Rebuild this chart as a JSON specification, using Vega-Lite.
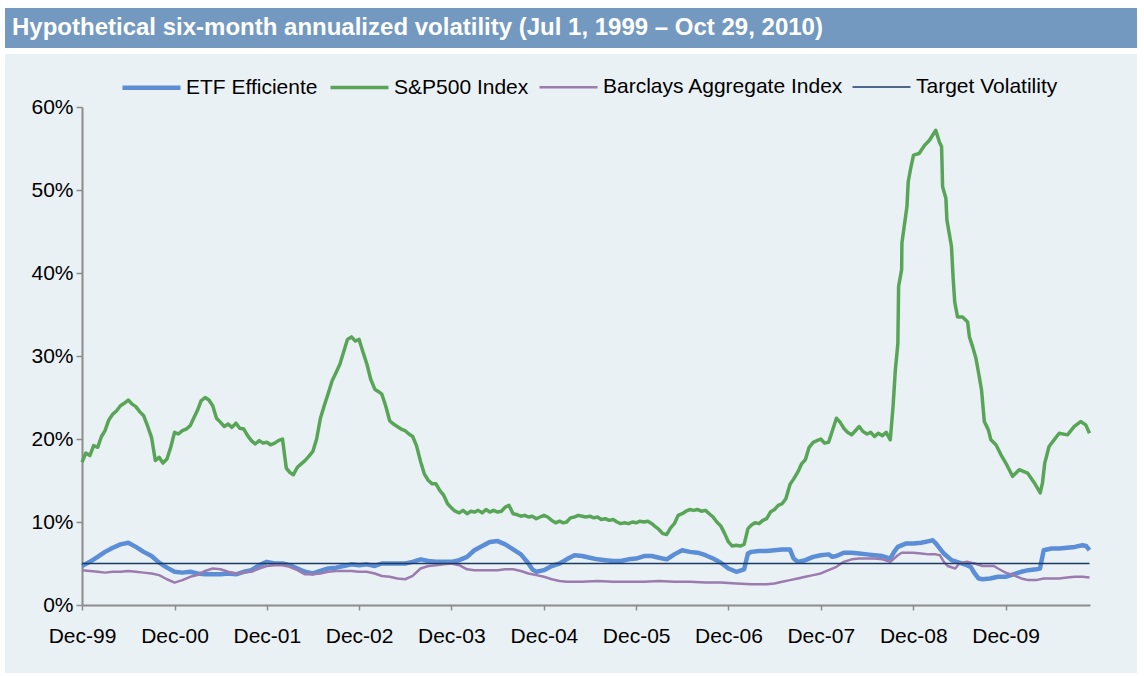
{
"$schema": "https://vega.github.io/schema/vega-lite/v6.json",
"background": "#FFFFFF",
"padding": {"left": 5, "top": 8, "right": 7, "bottom": 3},
"spacing": 6,
"config": {"view": {"stroke": null}, "font": "Liberation Sans"},
"datasets": {"vol": [
{"d":"1999-12-01","k":"e","v":4.7},{"d":"2000-01-01","k":"e","v":5.2},{"d":"2000-02-01","k":"e","v":5.8},{"d":"2000-03-01","k":"e","v":6.4},{"d":"2000-04-01","k":"e","v":6.9},{"d":"2000-05-01","k":"e","v":7.3},{"d":"2000-05-16","k":"e","v":7.4},{"d":"2000-06-01","k":"e","v":7.5},{"d":"2000-07-01","k":"e","v":7.0},{"d":"2000-08-01","k":"e","v":6.4},{"d":"2000-09-01","k":"e","v":5.9},{"d":"2000-10-01","k":"e","v":5.1},{"d":"2000-11-01","k":"e","v":4.5},{"d":"2000-12-01","k":"e","v":4.0},
{"d":"2001-01-01","k":"e","v":3.9},{"d":"2001-02-01","k":"e","v":4.0},{"d":"2001-03-01","k":"e","v":3.8},{"d":"2001-04-01","k":"e","v":3.7},{"d":"2001-05-01","k":"e","v":3.7},{"d":"2001-06-01","k":"e","v":3.7},{"d":"2001-07-01","k":"e","v":3.8},{"d":"2001-08-01","k":"e","v":3.7},{"d":"2001-09-01","k":"e","v":4.0},{"d":"2001-10-01","k":"e","v":4.2},{"d":"2001-11-01","k":"e","v":4.8},{"d":"2001-12-01","k":"e","v":5.2},
{"d":"2002-01-01","k":"e","v":5.0},{"d":"2002-02-01","k":"e","v":5.0},{"d":"2002-03-01","k":"e","v":4.8},{"d":"2002-04-01","k":"e","v":4.4},{"d":"2002-05-01","k":"e","v":4.0},{"d":"2002-06-01","k":"e","v":3.8},{"d":"2002-07-01","k":"e","v":4.1},{"d":"2002-08-01","k":"e","v":4.4},{"d":"2002-09-01","k":"e","v":4.5},{"d":"2002-10-01","k":"e","v":4.7},{"d":"2002-11-01","k":"e","v":4.9},{"d":"2002-12-01","k":"e","v":4.8},
{"d":"2003-01-01","k":"e","v":4.9},{"d":"2003-02-01","k":"e","v":4.7},{"d":"2003-03-01","k":"e","v":5.0},{"d":"2003-04-01","k":"e","v":5.0},{"d":"2003-05-01","k":"e","v":5.0},{"d":"2003-06-01","k":"e","v":5.0},{"d":"2003-07-01","k":"e","v":5.2},{"d":"2003-08-01","k":"e","v":5.5},{"d":"2003-09-01","k":"e","v":5.3},{"d":"2003-10-01","k":"e","v":5.2},{"d":"2003-11-01","k":"e","v":5.2},{"d":"2003-12-01","k":"e","v":5.2},
{"d":"2004-01-01","k":"e","v":5.4},{"d":"2004-02-01","k":"e","v":5.8},{"d":"2004-03-01","k":"e","v":6.6},{"d":"2004-04-01","k":"e","v":7.1},{"d":"2004-05-01","k":"e","v":7.6},{"d":"2004-06-01","k":"e","v":7.7},{"d":"2004-07-01","k":"e","v":7.3},{"d":"2004-08-01","k":"e","v":6.7},{"d":"2004-09-01","k":"e","v":6.1},{"d":"2004-10-01","k":"e","v":5.0},{"d":"2004-10-16","k":"e","v":4.3},{"d":"2004-11-01","k":"e","v":4.0},{"d":"2004-12-01","k":"e","v":4.2},
{"d":"2005-01-01","k":"e","v":4.7},{"d":"2005-02-01","k":"e","v":5.0},{"d":"2005-03-01","k":"e","v":5.5},{"d":"2005-04-01","k":"e","v":6.0},{"d":"2005-05-01","k":"e","v":5.9},{"d":"2005-06-01","k":"e","v":5.7},{"d":"2005-07-01","k":"e","v":5.5},{"d":"2005-08-01","k":"e","v":5.4},{"d":"2005-09-01","k":"e","v":5.3},{"d":"2005-10-01","k":"e","v":5.3},{"d":"2005-11-01","k":"e","v":5.5},{"d":"2005-12-01","k":"e","v":5.6},
{"d":"2006-01-01","k":"e","v":5.9},{"d":"2006-02-01","k":"e","v":5.9},{"d":"2006-03-01","k":"e","v":5.7},{"d":"2006-04-01","k":"e","v":5.5},{"d":"2006-05-01","k":"e","v":6.1},{"d":"2006-06-01","k":"e","v":6.6},{"d":"2006-07-01","k":"e","v":6.4},{"d":"2006-08-01","k":"e","v":6.3},{"d":"2006-09-01","k":"e","v":6.0},{"d":"2006-10-01","k":"e","v":5.6},{"d":"2006-11-01","k":"e","v":5.1},{"d":"2006-12-01","k":"e","v":4.4},
{"d":"2007-01-01","k":"e","v":4.0},{"d":"2007-02-01","k":"e","v":4.3},{"d":"2007-02-16","k":"e","v":6.2},{"d":"2007-03-01","k":"e","v":6.4},{"d":"2007-04-01","k":"e","v":6.5},{"d":"2007-05-01","k":"e","v":6.5},{"d":"2007-06-01","k":"e","v":6.6},{"d":"2007-07-01","k":"e","v":6.7},{"d":"2007-08-01","k":"e","v":6.7},{"d":"2007-08-16","k":"e","v":5.6},{"d":"2007-09-01","k":"e","v":5.2},{"d":"2007-10-01","k":"e","v":5.4},{"d":"2007-11-01","k":"e","v":5.8},{"d":"2007-12-01","k":"e","v":6.0},
{"d":"2008-01-01","k":"e","v":6.1},{"d":"2008-01-16","k":"e","v":5.8},{"d":"2008-02-01","k":"e","v":5.9},{"d":"2008-03-01","k":"e","v":6.3},{"d":"2008-04-01","k":"e","v":6.3},{"d":"2008-05-01","k":"e","v":6.2},{"d":"2008-06-01","k":"e","v":6.1},{"d":"2008-07-01","k":"e","v":6.0},{"d":"2008-08-01","k":"e","v":5.9},{"d":"2008-09-01","k":"e","v":5.6},{"d":"2008-09-16","k":"e","v":6.4},{"d":"2008-10-01","k":"e","v":7.0},{"d":"2008-11-01","k":"e","v":7.4},{"d":"2008-12-01","k":"e","v":7.4},
{"d":"2009-01-01","k":"e","v":7.5},{"d":"2009-02-01","k":"e","v":7.7},{"d":"2009-02-16","k":"e","v":7.8},{"d":"2009-03-01","k":"e","v":7.4},{"d":"2009-04-01","k":"e","v":6.2},{"d":"2009-05-01","k":"e","v":5.4},{"d":"2009-06-01","k":"e","v":5.1},{"d":"2009-07-01","k":"e","v":4.8},{"d":"2009-07-16","k":"e","v":4.6},{"d":"2009-08-01","k":"e","v":3.8},{"d":"2009-08-16","k":"e","v":3.2},{"d":"2009-09-01","k":"e","v":3.1},{"d":"2009-10-01","k":"e","v":3.2},{"d":"2009-11-01","k":"e","v":3.4},{"d":"2009-12-01","k":"e","v":3.4},
{"d":"2010-01-01","k":"e","v":3.7},{"d":"2010-02-01","k":"e","v":4.0},{"d":"2010-03-01","k":"e","v":4.2},{"d":"2010-04-01","k":"e","v":4.3},{"d":"2010-04-16","k":"e","v":4.4},{"d":"2010-05-01","k":"e","v":6.6},{"d":"2010-06-01","k":"e","v":6.8},{"d":"2010-07-01","k":"e","v":6.8},{"d":"2010-08-01","k":"e","v":6.9},{"d":"2010-09-01","k":"e","v":7.0},{"d":"2010-10-01","k":"e","v":7.2},{"d":"2010-10-16","k":"e","v":7.1},{"d":"2010-10-29","k":"e","v":6.6},
{"d":"1999-12-01","k":"s","v":17.2},{"d":"1999-12-16","k":"s","v":18.3},{"d":"2000-01-01","k":"s","v":18.0},{"d":"2000-01-16","k":"s","v":19.2},{"d":"2000-02-01","k":"s","v":19.0},{"d":"2000-02-16","k":"s","v":20.3},{"d":"2000-03-01","k":"s","v":21.0},{"d":"2000-03-16","k":"s","v":22.3},{"d":"2000-04-01","k":"s","v":23.0},{"d":"2000-04-16","k":"s","v":23.4},{"d":"2000-05-01","k":"s","v":24.0},{"d":"2000-05-16","k":"s","v":24.3},{"d":"2000-06-01","k":"s","v":24.7},{"d":"2000-06-16","k":"s","v":24.2},{"d":"2000-07-01","k":"s","v":23.9},{"d":"2000-07-16","k":"s","v":23.3},{"d":"2000-08-01","k":"s","v":22.8},{"d":"2000-08-16","k":"s","v":21.6},{"d":"2000-09-01","k":"s","v":20.2},{"d":"2000-09-16","k":"s","v":17.4},{"d":"2000-10-01","k":"s","v":17.8},{"d":"2000-10-16","k":"s","v":17.1},{"d":"2000-11-01","k":"s","v":17.6},{"d":"2000-11-16","k":"s","v":19.0},{"d":"2000-12-01","k":"s","v":20.8},{"d":"2000-12-16","k":"s","v":20.6},
{"d":"2001-01-01","k":"s","v":21.0},{"d":"2001-01-16","k":"s","v":21.2},{"d":"2001-02-01","k":"s","v":21.6},{"d":"2001-02-16","k":"s","v":22.6},{"d":"2001-03-01","k":"s","v":23.4},{"d":"2001-03-16","k":"s","v":24.6},{"d":"2001-04-01","k":"s","v":25.0},{"d":"2001-04-16","k":"s","v":24.7},{"d":"2001-05-01","k":"s","v":24.0},{"d":"2001-05-16","k":"s","v":22.5},{"d":"2001-06-01","k":"s","v":22.0},{"d":"2001-06-16","k":"s","v":21.5},{"d":"2001-07-01","k":"s","v":21.8},{"d":"2001-07-16","k":"s","v":21.4},{"d":"2001-08-01","k":"s","v":21.9},{"d":"2001-08-16","k":"s","v":21.3},{"d":"2001-09-01","k":"s","v":21.2},{"d":"2001-09-16","k":"s","v":20.4},{"d":"2001-10-01","k":"s","v":19.8},{"d":"2001-10-16","k":"s","v":19.4},{"d":"2001-11-01","k":"s","v":19.8},{"d":"2001-11-16","k":"s","v":19.5},{"d":"2001-12-01","k":"s","v":19.6},{"d":"2001-12-16","k":"s","v":19.3},
{"d":"2002-01-01","k":"s","v":19.5},{"d":"2002-01-16","k":"s","v":19.8},{"d":"2002-02-01","k":"s","v":20.0},{"d":"2002-02-16","k":"s","v":16.5},{"d":"2002-03-01","k":"s","v":16.0},{"d":"2002-03-16","k":"s","v":15.7},{"d":"2002-04-01","k":"s","v":16.6},{"d":"2002-04-16","k":"s","v":17.0},{"d":"2002-05-01","k":"s","v":17.4},{"d":"2002-05-16","k":"s","v":17.9},{"d":"2002-06-01","k":"s","v":18.5},{"d":"2002-06-16","k":"s","v":20.0},{"d":"2002-07-01","k":"s","v":22.5},{"d":"2002-07-16","k":"s","v":24.0},{"d":"2002-08-01","k":"s","v":25.5},{"d":"2002-08-16","k":"s","v":27.0},{"d":"2002-09-01","k":"s","v":28.0},{"d":"2002-09-16","k":"s","v":29.0},{"d":"2002-10-01","k":"s","v":30.5},{"d":"2002-10-16","k":"s","v":32.0},{"d":"2002-11-01","k":"s","v":32.3},{"d":"2002-11-16","k":"s","v":31.8},{"d":"2002-12-01","k":"s","v":32.0},{"d":"2002-12-16","k":"s","v":30.5},
{"d":"2003-01-01","k":"s","v":29.0},{"d":"2003-01-16","k":"s","v":27.2},{"d":"2003-02-01","k":"s","v":26.0},{"d":"2003-02-16","k":"s","v":25.7},{"d":"2003-03-01","k":"s","v":25.4},{"d":"2003-03-16","k":"s","v":24.0},{"d":"2003-04-01","k":"s","v":22.2},{"d":"2003-04-16","k":"s","v":21.8},{"d":"2003-05-01","k":"s","v":21.5},{"d":"2003-05-16","k":"s","v":21.2},{"d":"2003-06-01","k":"s","v":21.0},{"d":"2003-06-16","k":"s","v":20.6},{"d":"2003-07-01","k":"s","v":20.3},{"d":"2003-07-16","k":"s","v":19.2},{"d":"2003-08-01","k":"s","v":17.3},{"d":"2003-08-16","k":"s","v":15.8},{"d":"2003-09-01","k":"s","v":15.0},{"d":"2003-09-16","k":"s","v":14.6},{"d":"2003-10-01","k":"s","v":14.6},{"d":"2003-10-16","k":"s","v":13.8},{"d":"2003-11-01","k":"s","v":13.2},{"d":"2003-11-16","k":"s","v":12.2},{"d":"2003-12-01","k":"s","v":11.7},{"d":"2003-12-16","k":"s","v":11.3},
{"d":"2004-01-01","k":"s","v":11.1},{"d":"2004-01-16","k":"s","v":11.4},{"d":"2004-02-01","k":"s","v":11.0},{"d":"2004-02-16","k":"s","v":11.3},{"d":"2004-03-01","k":"s","v":11.2},{"d":"2004-03-16","k":"s","v":11.4},{"d":"2004-04-01","k":"s","v":11.1},{"d":"2004-04-16","k":"s","v":11.5},{"d":"2004-05-01","k":"s","v":11.2},{"d":"2004-05-16","k":"s","v":11.4},{"d":"2004-06-01","k":"s","v":11.2},{"d":"2004-06-16","k":"s","v":11.3},{"d":"2004-07-01","k":"s","v":11.8},{"d":"2004-07-16","k":"s","v":12.0},{"d":"2004-08-01","k":"s","v":11.0},{"d":"2004-08-16","k":"s","v":10.9},{"d":"2004-09-01","k":"s","v":10.7},{"d":"2004-09-16","k":"s","v":10.8},{"d":"2004-10-01","k":"s","v":10.6},{"d":"2004-10-16","k":"s","v":10.7},{"d":"2004-11-01","k":"s","v":10.4},{"d":"2004-11-16","k":"s","v":10.6},{"d":"2004-12-01","k":"s","v":10.8},{"d":"2004-12-16","k":"s","v":10.6},
{"d":"2005-01-01","k":"s","v":10.2},{"d":"2005-01-16","k":"s","v":9.9},{"d":"2005-02-01","k":"s","v":10.1},{"d":"2005-02-16","k":"s","v":9.9},{"d":"2005-03-01","k":"s","v":10.0},{"d":"2005-03-16","k":"s","v":10.5},{"d":"2005-04-01","k":"s","v":10.6},{"d":"2005-04-16","k":"s","v":10.8},{"d":"2005-05-01","k":"s","v":10.7},{"d":"2005-05-16","k":"s","v":10.6},{"d":"2005-06-01","k":"s","v":10.7},{"d":"2005-06-16","k":"s","v":10.5},{"d":"2005-07-01","k":"s","v":10.6},{"d":"2005-07-16","k":"s","v":10.3},{"d":"2005-08-01","k":"s","v":10.4},{"d":"2005-08-16","k":"s","v":10.2},{"d":"2005-09-01","k":"s","v":10.3},{"d":"2005-09-16","k":"s","v":10.0},{"d":"2005-10-01","k":"s","v":9.8},{"d":"2005-10-16","k":"s","v":9.9},{"d":"2005-11-01","k":"s","v":9.8},{"d":"2005-11-16","k":"s","v":10.0},{"d":"2005-12-01","k":"s","v":9.9},{"d":"2005-12-16","k":"s","v":10.1},
{"d":"2006-01-01","k":"s","v":10.0},{"d":"2006-01-16","k":"s","v":10.1},{"d":"2006-02-01","k":"s","v":9.8},{"d":"2006-02-16","k":"s","v":9.4},{"d":"2006-03-01","k":"s","v":9.1},{"d":"2006-03-16","k":"s","v":8.6},{"d":"2006-04-01","k":"s","v":8.5},{"d":"2006-04-16","k":"s","v":9.3},{"d":"2006-05-01","k":"s","v":9.8},{"d":"2006-05-16","k":"s","v":10.8},{"d":"2006-06-01","k":"s","v":11.0},{"d":"2006-06-16","k":"s","v":11.3},{"d":"2006-07-01","k":"s","v":11.5},{"d":"2006-07-16","k":"s","v":11.4},{"d":"2006-08-01","k":"s","v":11.5},{"d":"2006-08-16","k":"s","v":11.3},{"d":"2006-09-01","k":"s","v":11.4},{"d":"2006-09-16","k":"s","v":11.0},{"d":"2006-10-01","k":"s","v":10.6},{"d":"2006-10-16","k":"s","v":10.0},{"d":"2006-11-01","k":"s","v":9.5},{"d":"2006-11-16","k":"s","v":8.6},{"d":"2006-12-01","k":"s","v":7.6},{"d":"2006-12-16","k":"s","v":7.1},
{"d":"2007-01-01","k":"s","v":7.2},{"d":"2007-01-16","k":"s","v":7.1},{"d":"2007-02-01","k":"s","v":7.3},{"d":"2007-02-16","k":"s","v":9.2},{"d":"2007-03-01","k":"s","v":9.6},{"d":"2007-03-16","k":"s","v":9.9},{"d":"2007-04-01","k":"s","v":9.8},{"d":"2007-04-16","k":"s","v":10.2},{"d":"2007-05-01","k":"s","v":10.4},{"d":"2007-05-16","k":"s","v":11.2},{"d":"2007-06-01","k":"s","v":11.5},{"d":"2007-06-16","k":"s","v":12.0},{"d":"2007-07-01","k":"s","v":12.2},{"d":"2007-07-16","k":"s","v":12.8},{"d":"2007-08-01","k":"s","v":14.5},{"d":"2007-08-16","k":"s","v":15.2},{"d":"2007-09-01","k":"s","v":16.0},{"d":"2007-09-16","k":"s","v":17.0},{"d":"2007-10-01","k":"s","v":17.5},{"d":"2007-10-16","k":"s","v":19.0},{"d":"2007-11-01","k":"s","v":19.6},{"d":"2007-11-16","k":"s","v":19.8},{"d":"2007-12-01","k":"s","v":20.0},{"d":"2007-12-16","k":"s","v":19.5},
{"d":"2008-01-01","k":"s","v":19.6},{"d":"2008-01-16","k":"s","v":21.0},{"d":"2008-02-01","k":"s","v":22.5},{"d":"2008-02-16","k":"s","v":22.0},{"d":"2008-03-01","k":"s","v":21.3},{"d":"2008-03-16","k":"s","v":20.8},{"d":"2008-04-01","k":"s","v":20.5},{"d":"2008-04-16","k":"s","v":21.0},{"d":"2008-05-01","k":"s","v":21.5},{"d":"2008-05-16","k":"s","v":20.9},{"d":"2008-06-01","k":"s","v":20.6},{"d":"2008-06-16","k":"s","v":20.8},{"d":"2008-07-01","k":"s","v":20.3},{"d":"2008-07-16","k":"s","v":20.7},{"d":"2008-08-01","k":"s","v":20.4},{"d":"2008-08-16","k":"s","v":20.8},{"d":"2008-09-01","k":"s","v":19.9},{"d":"2008-09-12","k":"s","v":23.9},{"d":"2008-09-21","k":"s","v":28.3},{"d":"2008-10-01","k":"s","v":31.5},{"d":"2008-10-04","k":"s","v":38.4},{"d":"2008-10-16","k":"s","v":40.4},{"d":"2008-10-17","k":"s","v":43.6},{"d":"2008-10-26","k":"s","v":45.6},{"d":"2008-11-06","k":"s","v":48.0},{"d":"2008-11-11","k":"s","v":51.0},{"d":"2008-11-22","k":"s","v":52.8},{"d":"2008-12-02","k":"s","v":54.2},{"d":"2008-12-24","k":"s","v":54.4},
{"d":"2009-01-15","k":"s","v":55.4},{"d":"2009-02-03","k":"s","v":56.0},{"d":"2009-02-28","k":"s","v":57.2},{"d":"2009-03-14","k":"s","v":55.8},{"d":"2009-03-23","k":"s","v":55.2},{"d":"2009-03-27","k":"s","v":50.4},{"d":"2009-04-09","k":"s","v":49.0},{"d":"2009-04-13","k":"s","v":46.4},{"d":"2009-04-22","k":"s","v":44.8},{"d":"2009-05-01","k":"s","v":43.2},{"d":"2009-05-08","k":"s","v":39.2},{"d":"2009-05-14","k":"s","v":36.5},{"d":"2009-05-25","k":"s","v":34.7},{"d":"2009-06-14","k":"s","v":34.7},{"d":"2009-07-04","k":"s","v":34.1},{"d":"2009-07-11","k":"s","v":32.3},{"d":"2009-07-24","k":"s","v":31.1},{"d":"2009-08-06","k":"s","v":29.7},{"d":"2009-08-19","k":"s","v":27.5},{"d":"2009-08-28","k":"s","v":25.9},{"d":"2009-09-08","k":"s","v":22.1},{"d":"2009-09-24","k":"s","v":21.1},{"d":"2009-10-04","k":"s","v":19.9},{"d":"2009-10-24","k":"s","v":19.3},{"d":"2009-11-13","k":"s","v":18.1},{"d":"2009-12-02","k":"s","v":17.1},{"d":"2009-12-29","k":"s","v":15.5},
{"d":"2010-01-24","k":"s","v":16.3},{"d":"2010-02-26","k":"s","v":15.9},{"d":"2010-03-25","k":"s","v":14.7},{"d":"2010-04-17","k":"s","v":13.5},{"d":"2010-04-26","k":"s","v":14.7},{"d":"2010-05-05","k":"s","v":17.1},{"d":"2010-05-22","k":"s","v":19.1},{"d":"2010-06-11","k":"s","v":19.9},{"d":"2010-07-01","k":"s","v":20.7},{"d":"2010-08-03","k":"s","v":20.5},{"d":"2010-08-29","k":"s","v":21.5},{"d":"2010-09-24","k":"s","v":22.1},{"d":"2010-10-14","k":"s","v":21.7},{"d":"2010-10-29","k":"s","v":20.7},
{"d":"1999-12-01","k":"b","v":4.2},{"d":"2000-01-01","k":"b","v":4.1},{"d":"2000-02-01","k":"b","v":4.0},{"d":"2000-03-01","k":"b","v":3.9},{"d":"2000-04-01","k":"b","v":4.0},{"d":"2000-05-01","k":"b","v":4.0},{"d":"2000-06-01","k":"b","v":4.1},{"d":"2000-07-01","k":"b","v":4.0},{"d":"2000-08-01","k":"b","v":3.9},{"d":"2000-09-01","k":"b","v":3.8},{"d":"2000-10-01","k":"b","v":3.6},{"d":"2000-11-01","k":"b","v":3.1},{"d":"2000-12-01","k":"b","v":2.7},
{"d":"2001-01-01","k":"b","v":3.0},{"d":"2001-02-01","k":"b","v":3.4},{"d":"2001-03-01","k":"b","v":3.6},{"d":"2001-04-01","k":"b","v":4.1},{"d":"2001-05-01","k":"b","v":4.4},{"d":"2001-06-01","k":"b","v":4.3},{"d":"2001-07-01","k":"b","v":4.0},{"d":"2001-08-01","k":"b","v":3.8},{"d":"2001-09-01","k":"b","v":3.9},{"d":"2001-10-01","k":"b","v":4.0},{"d":"2001-11-01","k":"b","v":4.4},{"d":"2001-12-01","k":"b","v":4.7},
{"d":"2002-01-01","k":"b","v":4.8},{"d":"2002-02-01","k":"b","v":4.8},{"d":"2002-03-01","k":"b","v":4.6},{"d":"2002-04-01","k":"b","v":4.2},{"d":"2002-05-01","k":"b","v":3.7},{"d":"2002-06-01","k":"b","v":3.7},{"d":"2002-07-01","k":"b","v":3.8},{"d":"2002-08-01","k":"b","v":4.0},{"d":"2002-09-01","k":"b","v":4.1},{"d":"2002-10-01","k":"b","v":4.1},{"d":"2002-11-01","k":"b","v":4.1},{"d":"2002-12-01","k":"b","v":4.0},
{"d":"2003-01-01","k":"b","v":4.0},{"d":"2003-02-01","k":"b","v":3.8},{"d":"2003-03-01","k":"b","v":3.5},{"d":"2003-04-01","k":"b","v":3.4},{"d":"2003-05-01","k":"b","v":3.2},{"d":"2003-06-01","k":"b","v":3.1},{"d":"2003-07-01","k":"b","v":3.5},{"d":"2003-08-01","k":"b","v":4.4},{"d":"2003-09-01","k":"b","v":4.7},{"d":"2003-10-01","k":"b","v":4.8},{"d":"2003-11-01","k":"b","v":4.9},{"d":"2003-12-01","k":"b","v":5.0},
{"d":"2004-01-01","k":"b","v":4.8},{"d":"2004-02-01","k":"b","v":4.3},{"d":"2004-03-01","k":"b","v":4.2},{"d":"2004-04-01","k":"b","v":4.2},{"d":"2004-05-01","k":"b","v":4.2},{"d":"2004-06-01","k":"b","v":4.2},{"d":"2004-07-01","k":"b","v":4.3},{"d":"2004-08-01","k":"b","v":4.3},{"d":"2004-09-01","k":"b","v":4.1},{"d":"2004-10-01","k":"b","v":3.8},{"d":"2004-11-01","k":"b","v":3.6},{"d":"2004-12-01","k":"b","v":3.4},
{"d":"2005-01-01","k":"b","v":3.1},{"d":"2005-02-01","k":"b","v":2.9},{"d":"2005-03-01","k":"b","v":2.8},{"d":"2005-05-01","k":"b","v":2.8},{"d":"2005-07-01","k":"b","v":2.9},{"d":"2005-09-01","k":"b","v":2.8},{"d":"2005-11-01","k":"b","v":2.8},{"d":"2006-01-01","k":"b","v":2.8},{"d":"2006-03-01","k":"b","v":2.9},{"d":"2006-05-01","k":"b","v":2.8},{"d":"2006-07-01","k":"b","v":2.8},{"d":"2006-09-01","k":"b","v":2.7},{"d":"2006-11-01","k":"b","v":2.7},
{"d":"2007-01-01","k":"b","v":2.6},{"d":"2007-03-01","k":"b","v":2.5},{"d":"2007-05-01","k":"b","v":2.5},{"d":"2007-06-01","k":"b","v":2.6},{"d":"2007-07-01","k":"b","v":2.8},{"d":"2007-08-01","k":"b","v":3.0},{"d":"2007-09-01","k":"b","v":3.2},{"d":"2007-10-01","k":"b","v":3.4},{"d":"2007-11-01","k":"b","v":3.6},{"d":"2007-12-01","k":"b","v":3.8},
{"d":"2008-01-01","k":"b","v":4.2},{"d":"2008-02-01","k":"b","v":4.6},{"d":"2008-03-01","k":"b","v":5.2},{"d":"2008-04-01","k":"b","v":5.5},{"d":"2008-05-01","k":"b","v":5.6},{"d":"2008-06-01","k":"b","v":5.6},{"d":"2008-07-01","k":"b","v":5.6},{"d":"2008-08-01","k":"b","v":5.5},{"d":"2008-09-01","k":"b","v":5.2},{"d":"2008-10-01","k":"b","v":6.0},{"d":"2008-10-16","k":"b","v":6.3},{"d":"2008-11-01","k":"b","v":6.3},{"d":"2008-12-01","k":"b","v":6.3},
{"d":"2009-01-01","k":"b","v":6.2},{"d":"2009-02-01","k":"b","v":6.1},{"d":"2009-03-01","k":"b","v":6.1},{"d":"2009-03-16","k":"b","v":6.0},{"d":"2009-04-01","k":"b","v":5.2},{"d":"2009-04-16","k":"b","v":4.7},{"d":"2009-05-16","k":"b","v":4.4},{"d":"2009-06-01","k":"b","v":5.0},{"d":"2009-07-01","k":"b","v":5.2},{"d":"2009-08-01","k":"b","v":5.0},{"d":"2009-09-01","k":"b","v":4.7},{"d":"2009-10-01","k":"b","v":4.7},{"d":"2009-10-16","k":"b","v":4.7},{"d":"2009-11-01","k":"b","v":4.4},{"d":"2009-12-01","k":"b","v":3.9},
{"d":"2010-01-01","k":"b","v":3.6},{"d":"2010-02-01","k":"b","v":3.2},{"d":"2010-03-01","k":"b","v":3.0},{"d":"2010-04-01","k":"b","v":3.0},{"d":"2010-05-01","k":"b","v":3.2},{"d":"2010-06-01","k":"b","v":3.2},{"d":"2010-07-01","k":"b","v":3.2},{"d":"2010-08-01","k":"b","v":3.3},{"d":"2010-09-01","k":"b","v":3.4},{"d":"2010-10-01","k":"b","v":3.4},{"d":"2010-10-29","k":"b","v":3.3},
{"d":"1999-12-01","k":"t","v":5.0},{"d":"2010-10-29","k":"t","v":5.0}
]},
"vconcat": [
{
"width": 1132, "height": 40,
"view": {"fill": "#7399C1", "stroke": null},
"data": {"values": [{"t": "Hypothetical six-month annualized volatility (Jul 1, 1999 – Oct 29, 2010)"}]},
"mark": {"type": "text", "align": "left", "baseline": "middle", "color": "#FFFFFF", "font": "Liberation Sans", "fontWeight": "bold", "fontSize": 24, "dx": 7},
"encoding": {
"text": {"field": "t", "type": "nominal"},
"x": {"datum": 0, "type": "quantitative", "scale": {"domain": [0, 1]}, "axis": null},
"y": {"datum": 0.5, "type": "quantitative", "scale": {"domain": [0, 1]}, "axis": null}
}
},
{
"width": 1132, "height": 619,
"view": {"fill": "#EAF1F5", "stroke": null},
"data": {"name": "vol"},
"mark": {"type": "line", "strokeJoin": "round"},
"encoding": {
"x": {"field": "d", "type": "temporal",
"scale": {"type": "utc", "range": [77, 1085], "domain": [{"year": 1999, "month": 12, "date": 1, "utc": true}, {"year": 2010, "month": 10, "date": 31, "utc": true}]},
"axis": {"offset": -68, "values": [{"year":1999,"month":12,"date":1,"utc":true},{"year":2000,"month":12,"date":1,"utc":true},{"year":2001,"month":12,"date":1,"utc":true},{"year":2002,"month":12,"date":1,"utc":true},{"year":2003,"month":12,"date":1,"utc":true},{"year":2004,"month":12,"date":1,"utc":true},{"year":2005,"month":12,"date":1,"utc":true},{"year":2006,"month":12,"date":1,"utc":true},{"year":2007,"month":12,"date":1,"utc":true},{"year":2008,"month":12,"date":1,"utc":true},{"year":2009,"month":12,"date":1,"utc":true}],
"format": "%b-%y", "title": null, "grid": false, "labelFontSize": 21, "labelColor": "#000000", "labelFont": "Liberation Sans", "labelPadding": 15, "tickSize": 5, "tickColor": "#8C8C8C", "tickWidth": 1.5, "domainColor": "#8C8C8C", "domainWidth": 2, "labelFlush": false, "labelOverlap": false, "labelAngle": 0}},
"y": {"field": "v", "type": "quantitative", "scale": {"domain": [0, 60], "nice": false, "range": [551, 53]},
"axis": {"offset": -77, "values": [0, 10, 20, 30, 40, 50, 60], "labelExpr": "datum.value + '%'", "title": null, "grid": false, "labelFontSize": 21, "labelColor": "#000000", "labelFont": "Liberation Sans", "labelPadding": 3, "tickSize": 6, "tickColor": "#8C8C8C", "tickWidth": 1.5, "domainColor": "#8C8C8C", "domainWidth": 2}},
"color": {"field": "k", "type": "nominal",
"scale": {"domain": ["e", "s", "b", "t"], "range": ["#5B8ED6", "#58A558", "#9C7BAE", "#1B3A66"]},
"legend": {"orient": "none", "legendX": 115, "legendY": 48, "direction": "horizontal", "columns": 4, "title": null, "labelExpr": "datum.label == 'e' ? 'ETF Efficiente' : datum.label == 's' ? 'S&P500 Index' : datum.label == 'b' ? 'Barclays Aggregate Index' : 'Target Volatility'", "labelFontSize": 21, "labelColor": "#000000", "labelFont": "Liberation Sans", "symbolType": "stroke", "symbolSize": 3364, "labelOffset": 3, "columnPadding": 5, "labelLimit": 400}},
"strokeWidth": {"field": "k", "type": "nominal",
"scale": {"domain": ["e", "s", "b", "t"], "range": [4.5, 1.5, 1.6, 1.8]},
"legend": {"orient": "none", "legendX": 115, "legendY": 48, "direction": "horizontal", "columns": 4, "title": null, "labelExpr": "datum.label == 'e' ? 'ETF Efficiente' : datum.label == 's' ? 'S&P500 Index' : datum.label == 'b' ? 'Barclays Aggregate Index' : 'Target Volatility'", "labelFontSize": 21, "labelColor": "#000000", "labelFont": "Liberation Sans", "symbolType": "stroke", "symbolSize": 3364, "labelOffset": 3, "columnPadding": 5, "labelLimit": 400}}
}
}
]
}
